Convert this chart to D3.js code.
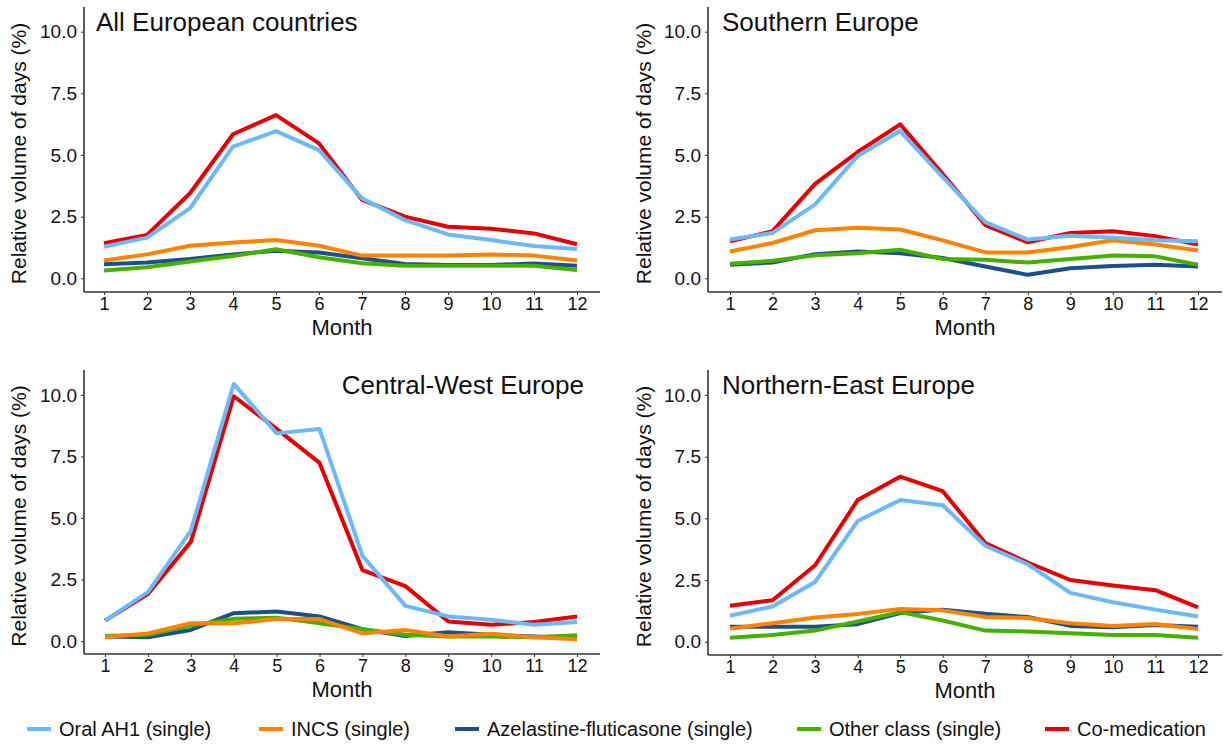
<!DOCTYPE html>
<html><head><meta charset="utf-8">
<script src="https://cdn.jsdelivr.net/npm/d3@7"></script>
<style>
body{margin:0;background:#fff;}
text{font-family:"Liberation Sans",Arial,sans-serif;fill:#111;}
</style></head>
<body><svg id="chart" width="1226" height="745"></svg>
<script>
const months = [1,2,3,4,5,6,7,8,9,10,11,12];
const seriesNames = ["Oral AH1 (single)","INCS (single)","Azelastine-fluticasone (single)","Other class (single)","Co-medication"];
const seriesColors = ["#6cb9f7","#ff8200","#1c4f8c","#45b000","#e80000"];
const yTicks = [0,2.5,5,7.5,10];
const panelTitles = ["All European countries","Southern Europe","Central-West Europe","Northern-East Europe"];

// All European countries
const allOral  = [1.28,1.65,2.84,5.34,5.97,5.20,3.24,2.36,1.78,1.55,1.31,1.19];
const allINCS  = [0.72,0.97,1.32,1.45,1.55,1.32,0.92,0.92,0.92,0.97,0.92,0.72];
const allAzel  = [0.57,0.64,0.78,0.97,1.12,1.05,0.81,0.58,0.54,0.54,0.60,0.51];
const allOther = [0.32,0.45,0.68,0.90,1.18,0.85,0.61,0.51,0.51,0.51,0.51,0.34];
const allCoMed = [1.42,1.76,3.45,5.84,6.62,5.47,3.18,2.50,2.09,2.01,1.82,1.38];
// Southern Europe
const southOral  = [1.57,1.84,3.00,4.96,5.97,4.10,2.28,1.57,1.73,1.64,1.54,1.50];
const southINCS  = [1.09,1.43,1.95,2.05,1.98,1.54,1.05,1.05,1.27,1.54,1.37,1.13];
const southAzel  = [0.55,0.64,0.98,1.09,1.02,0.82,0.48,0.14,0.41,0.50,0.55,0.48];
const southOther = [0.59,0.71,0.93,1.02,1.16,0.78,0.75,0.64,0.78,0.92,0.89,0.55];
const southCoMed = [1.50,1.91,3.83,5.12,6.24,4.23,2.16,1.46,1.84,1.91,1.71,1.37];
// Central-West Europe
const cwOral  = [0.83,1.99,4.48,10.45,8.44,8.62,3.46,1.43,1.00,0.86,0.66,0.77];
const cwINCS  = [0.15,0.31,0.72,0.72,0.89,0.89,0.31,0.45,0.18,0.29,0.15,0.07];
const cwAzel  = [0.18,0.15,0.45,1.13,1.20,1.00,0.48,0.20,0.36,0.25,0.18,0.11];
const cwOther = [0.20,0.25,0.63,0.90,0.95,0.72,0.48,0.25,0.18,0.18,0.15,0.23];
const cwCoMed = [0.83,1.91,4.03,9.95,8.62,7.24,2.88,2.23,0.79,0.66,0.77,1.00];
// Northern-East Europe
const neOral  = [1.05,1.43,2.42,4.89,5.74,5.53,3.89,3.14,1.98,1.60,1.30,1.02];
const neINCS  = [0.53,0.75,0.98,1.12,1.33,1.27,1.00,0.96,0.75,0.64,0.72,0.51];
const neAzel  = [0.61,0.61,0.61,0.71,1.16,1.30,1.13,1.00,0.64,0.59,0.68,0.61];
const neOther = [0.16,0.27,0.45,0.82,1.20,0.86,0.45,0.41,0.34,0.27,0.27,0.16];
const neCoMed = [1.46,1.68,3.10,5.74,6.69,6.10,4.00,3.21,2.50,2.28,2.09,1.39];

const panelData = [
  [allOral,allINCS,allAzel,allOther,allCoMed],
  [southOral,southINCS,southAzel,southOther,southCoMed],
  [cwOral,cwINCS,cwAzel,cwOther,cwCoMed],
  [neOral,neINCS,neAzel,neOther,neCoMed]
];

// layout
const layouts = [
  {axX:84, axY:292, top:7,   right:600,  x1:104, x12:577,  y0:278.3, y10:31.7, ytX:19,  titleX:96,  titleY:31,  anchor:"start"},
  {axX:708,axY:292, top:7,   right:1222, x1:730, x12:1198, y0:278.3, y10:31.7, ytX:644, titleX:722, titleY:31,  anchor:"start"},
  {axX:84, axY:654, top:370, right:600,  x1:105, x12:577,  y0:641,   y10:395,  ytX:19,  titleX:584, titleY:394, anchor:"end"},
  {axX:708,axY:655, top:370, right:1222, x1:730, x12:1198, y0:641.7, y10:395,  ytX:644, titleX:722, titleY:394, anchor:"start"}
];

const svg = d3.select("#chart");
const drawOrder = [4,2,3,1,0];

layouts.forEach((L,pi)=>{
  const g = svg.append("g");
  const x = d3.scaleLinear().domain([1,12]).range([L.x1,L.x12]);
  const y = d3.scaleLinear().domain([0,10]).range([L.y0,L.y10]);

  // axes lines
  g.append("line").attr("x1",L.axX).attr("x2",L.axX).attr("y1",L.top).attr("y2",L.axY)
    .attr("stroke","#333").attr("stroke-width",1.6);
  g.append("line").attr("x1",L.axX).attr("x2",L.right).attr("y1",L.axY).attr("y2",L.axY)
    .attr("stroke","#333").attr("stroke-width",1.6);

  // y ticks
  const yAxis = d3.axisLeft(y).tickValues(yTicks).tickFormat(d3.format(".1f")).tickSize(3).tickPadding(4);
  const ya = g.append("g").attr("transform",`translate(${L.axX},0)`).call(yAxis);
  ya.select(".domain").remove();
  ya.selectAll(".tick line").attr("stroke","#333");
  ya.selectAll(".tick text").attr("font-size",19).attr("fill","#111").style("font-family","Liberation Sans, Arial, sans-serif");

  // x ticks
  const xAxis = d3.axisBottom(x).tickValues(months).tickFormat(d3.format("d")).tickSize(3).tickPadding(2);
  const xa = g.append("g").attr("transform",`translate(0,${L.axY})`).call(xAxis);
  xa.select(".domain").remove();
  xa.selectAll(".tick line").attr("stroke","#333");
  xa.selectAll(".tick text").attr("font-size",18).attr("fill","#111").style("font-family","Liberation Sans, Arial, sans-serif");

  // axis titles
  g.append("text").attr("x",(L.axX+L.right)/2).attr("y",L.axY+43).attr("text-anchor","middle")
    .attr("font-size",22).text("Month");
  const ymid = (L.top+L.axY)/2 + 4;
  g.append("text").attr("transform",`translate(${L.ytX+7},${ymid}) rotate(-90)`).attr("text-anchor","middle")
    .attr("font-size",21).text("Relative volume of days (%)");

  // panel title
  g.append("text").attr("x",L.titleX).attr("y",L.titleY).attr("text-anchor",L.anchor)
    .attr("font-size",26).text(panelTitles[pi]);

  // lines
  const line = d3.line().x((d,i)=>x(months[i])).y(d=>y(d));
  drawOrder.forEach(si=>{
    g.append("path").datum(panelData[pi][si]).attr("d",line)
      .attr("fill","none").attr("stroke",seriesColors[si]).attr("stroke-width",4)
      .attr("stroke-linejoin","round");
  });
});

// legend
const legendX = [27,259,455,797,1045];
const lg = svg.append("g");
seriesNames.forEach((n,i)=>{
  lg.append("line").attr("x1",legendX[i]).attr("x2",legendX[i]+24).attr("y1",729).attr("y2",729)
    .attr("stroke",seriesColors[i]).attr("stroke-width",4);
  lg.append("text").attr("x",legendX[i]+32).attr("y",736).attr("font-size",20).text(n);
});
</script>
</body></html>
